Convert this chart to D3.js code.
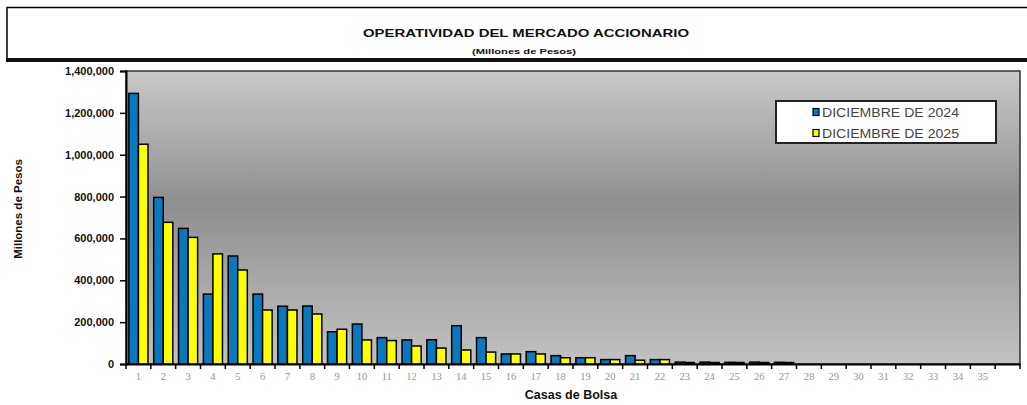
<!DOCTYPE html>
<html>
<head>
<meta charset="utf-8">
<script src="https://cdn.jsdelivr.net/npm/d3@7"></script>
<style>
  html, body { margin: 0; padding: 0; background: #fff; }
  svg { display: block; }
</style>
</head>
<body>
<svg id="chart" width="1027" height="405"></svg>
<script>
// Casas de Bolsa 1..35 (one trailing empty slot on the axis)
const categories = d3.range(1, 36).map(String);
const seriesNames = ["DICIEMBRE DE 2024", "DICIEMBRE DE 2025"];
const seriesColors = ["#0a78be", "#ffff00"];

// Monthly operations, millions of pesos
const dic2024 = [1293000, 796000, 648000, 334000, 516000, 334000, 276000, 277000, 154000, 191000,
                 126000, 115000, 116000, 183000, 126000, 48000, 59000, 40000, 30000, 21000,
                 40000, 21000, 9000, 9000, 8000, 9000, 8000, 0, 0, 0,
                 0, 0, 0, 0, 0];
const dic2025 = [1050000, 677000, 605000, 526000, 449000, 258000, 258000, 239000, 166000, 115000,
                 112000, 86000, 76000, 67000, 57000, 48000, 48000, 30000, 30000, 21000,
                 18000, 21000, 7000, 7000, 7000, 7000, 7000, 0, 0, 0,
                 0, 0, 0, 0, 0];
const yTicks = [0, 200000, 400000, 600000, 800000, 1000000, 1200000, 1400000];

const svg = d3.select("#chart");
const plot = { left: 126, right: 1020, top: 71, bottom: 364 };

// Title banner
svg.append("rect").attr("x", 7).attr("y", 7.5).attr("width", 1040).attr("height", 52)
  .attr("fill", "#fff").attr("stroke", "#000").attr("stroke-width", 1.5);
svg.append("line").attr("x1", 6).attr("x2", 1030).attr("y1", 60).attr("y2", 60)
  .attr("stroke", "#111").attr("stroke-width", 4);
svg.append("text").attr("x", 526).attr("y", 37).attr("text-anchor", "middle")
  .attr("font-family", "Liberation Sans, Arial, sans-serif").attr("font-weight", "bold")
  .attr("font-size", 11).attr("textLength", 326).attr("lengthAdjust", "spacingAndGlyphs")
  .attr("fill", "#111").text("OPERATIVIDAD DEL MERCADO ACCIONARIO");
svg.append("text").attr("x", 524).attr("y", 54).attr("text-anchor", "middle")
  .attr("font-family", "Liberation Sans, Arial, sans-serif").attr("font-weight", "bold")
  .attr("font-size", 7.5).attr("textLength", 104).attr("lengthAdjust", "spacingAndGlyphs")
  .attr("fill", "#111").text("(Millones de Pesos)");

// Scales
const x0 = d3.scaleBand().domain(categories.concat([""])).range([plot.left, plot.right]);
const x1 = d3.scaleBand().domain(seriesNames).range([0, x0.bandwidth()])
  .paddingInner(0).paddingOuter(0.3);
const y = d3.scaleLinear().domain([0, 1400000]).range([plot.bottom, plot.top]);

// Plot area background
const defs = svg.append("defs");
const grad = defs.append("linearGradient").attr("id", "plotBg")
  .attr("x1", 0).attr("y1", 0).attr("x2", 0).attr("y2", 1);
grad.append("stop").attr("offset", "0%").attr("stop-color", "#c9c9c9");
grad.append("stop").attr("offset", "45%").attr("stop-color", "#8f8f8f");
grad.append("stop").attr("offset", "100%").attr("stop-color", "#c2c2c2");
svg.append("rect").attr("x", plot.left).attr("y", plot.top)
  .attr("width", plot.right - plot.left).attr("height", plot.bottom - plot.top)
  .attr("fill", "url(#plotBg)").attr("stroke", "#333").attr("stroke-width", 1.5);

// Bars
const series = [dic2024, dic2025];
series.forEach((vals, si) => {
  svg.append("g").selectAll("rect").data(vals).join("rect")
    .attr("x", (d, i) => x0(categories[i]) + x1(seriesNames[si]))
    .attr("y", d => y(d))
    .attr("width", x1.bandwidth())
    .attr("height", d => y(0) - y(d))
    .attr("fill", seriesColors[si])
    .attr("stroke", d => d > 0 ? "#000" : "none")
    .attr("stroke-width", 1.5);
});

// Y axis
const yAxis = svg.append("g").attr("transform", `translate(${plot.left},0)`)
  .call(d3.axisLeft(y).tickValues(yTicks).tickSize(6).tickPadding(6)
    .tickFormat(d3.format(",")));
yAxis.select(".domain").attr("stroke", "#000").attr("stroke-width", 2);
yAxis.selectAll(".tick line").attr("stroke", "#000").attr("stroke-width", 1.5);
yAxis.selectAll(".tick text").attr("font-family", "Liberation Sans, Arial, sans-serif")
  .attr("font-weight", "bold").attr("font-size", 11).attr("fill", "#111");

// X axis: ticks on category boundaries, labels centred in each slot
const xAxis = svg.append("g").attr("transform", `translate(0,${plot.bottom})`)
  .call(d3.axisBottom(x0).tickSize(0).tickPadding(9));
xAxis.select(".domain").attr("stroke", "#000").attr("stroke-width", 2);
xAxis.selectAll(".tick text").attr("font-family", "Liberation Serif, Times New Roman, serif")
  .attr("font-size", 10.5).attr("fill", "#969696");
svg.append("g").selectAll("line").data(x0.domain().concat(["__end"])).join("line")
  .attr("x1", (d, i) => plot.left + i * x0.step())
  .attr("x2", (d, i) => plot.left + i * x0.step())
  .attr("y1", plot.bottom).attr("y2", plot.bottom + 5)
  .attr("stroke", "#000").attr("stroke-width", 1.5);

// Axis titles
svg.append("text").attr("transform", "translate(22,209) rotate(-90)")
  .attr("text-anchor", "middle").attr("font-family", "Liberation Sans, Arial, sans-serif")
  .attr("font-weight", "bold").attr("font-size", 11.5).attr("fill", "#111")
  .text("Millones de Pesos");
svg.append("text").attr("x", 571).attr("y", 399).attr("text-anchor", "middle")
  .attr("font-family", "Liberation Sans, Arial, sans-serif").attr("font-weight", "bold")
  .attr("font-size", 12.5).attr("fill", "#111").text("Casas de Bolsa");

// Legend
const lg = svg.append("g");
lg.append("rect").attr("x", 776).attr("y", 101).attr("width", 220).attr("height", 42)
  .attr("fill", "#fff").attr("stroke", "#222").attr("stroke-width", 2);
seriesNames.forEach((name, i) => {
  const cy = 112 + i * 21;
  lg.append("rect").attr("x", 813).attr("y", cy - 3.5).attr("width", 6).attr("height", 7)
    .attr("fill", seriesColors[i]).attr("stroke", "#000").attr("stroke-width", 1.2);
  lg.append("text").attr("x", 822).attr("y", cy + 5)
    .attr("font-family", "Liberation Sans, Arial, sans-serif").attr("font-size", 12.5)
    .attr("textLength", 137).attr("lengthAdjust", "spacingAndGlyphs")
    .attr("fill", "#444").text(name);
});
</script>
</body>
</html>
